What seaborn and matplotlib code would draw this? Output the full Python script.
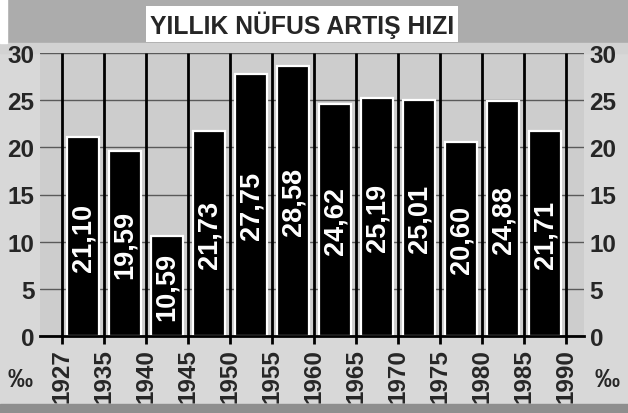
import seaborn as sns
import matplotlib.pyplot as plt
import matplotlib.patches as mpatches
import pandas as pd
import numpy as np

# census years (bar boundaries) and yearly growth rate per period (per mille)
years = ['1927', '1935', '1940', '1945', '1950', '1955', '1960',
         '1965', '1970', '1975', '1980', '1985', '1990']
rates = [21.10, 19.59, 10.59, 21.73, 27.75, 28.58, 24.62,
         25.19, 25.01, 20.60, 24.88, 21.71]
periods = [a + '-' + b for a, b in zip(years[:-1], years[1:])]
y_ticks = [0, 5, 10, 15, 20, 25, 30]
title = 'YILLIK NÜFUS ARTIŞ HIZI'

sns.set_style("white")
plt.rcParams['font.family'] = ['Liberation Sans', 'DejaVu Sans']
plt.rcParams['font.weight'] = 'bold'

df = pd.DataFrame({'period': periods, 'rate': rates})

fig = plt.figure(figsize=(6.28, 4.14), dpi=100, facecolor='#d8d8d8')
W, H = 628, 414

# background bands like the scanned page
fig.patches.append(mpatches.Rectangle((0, 1 - 44 / H), 1, 44 / H, transform=fig.transFigure,
                                      color='#acacac', zorder=-5))
fig.patches.append(mpatches.Rectangle((0, 1 - 54 / H), 1, 10 / H, transform=fig.transFigure,
                                      color='#d2d2d2', zorder=-5))
fig.patches.append(mpatches.Rectangle((0, 1 - 44 / H), 7 / W, 44 / H, transform=fig.transFigure,
                                      color='white', zorder=-4))
fig.patches.append(mpatches.Rectangle((0, 0), 1, 9 / H, transform=fig.transFigure,
                                      color='#8e8e8e', zorder=-5))

ax = fig.add_axes([40 / W, 1 - 337 / H, 544 / W, 283 / H])
ax.set_facecolor('#cdcdcd')

sns.barplot(data=df, x='period', y='rate', color='black', saturation=1,
            edgecolor='white', linewidth=1.6, width=0.74, ax=ax, zorder=2)

labels = [('%.2f' % v).replace('.', ',') for v in rates]
ax.bar_label(ax.containers[0], labels=labels, label_type='center', rotation=90,
             color='white', fontsize=19.5, fontweight='bold')

bounds = np.arange(len(years)) - 0.5
ax.vlines(bounds, 0, 30, color='black', lw=2, zorder=3)

ax.set_xlim(-0.5 - 22 / 42, len(rates) - 0.5 + 18 / 42)
ax.set_ylim(0, 30)
ax.set_yticks(y_ticks)
ax.yaxis.grid(True, color='#5a5a5a', lw=1)
ax.set_axisbelow(True)

ax.set_xticks(bounds)
ax.set_xticklabels(years, rotation=90, fontsize=17.5, fontweight='bold')
ax.tick_params(axis='x', length=6, width=2, color='black', pad=3, bottom=True)
ax.tick_params(axis='y', length=0, pad=4, labelsize=17.5, labelleft=True, labelright=True)
ax.set_xlabel('')
ax.set_ylabel('')

for s in ['top', 'left', 'right']:
    ax.spines[s].set_visible(False)
ax.spines['bottom'].set_color('black')
ax.spines['bottom'].set_linewidth(2)

fig.text(20 / W, 1 - 380 / H, '‰', ha='center', va='center', fontsize=18, fontweight='bold')
fig.text(607 / W, 1 - 380 / H, '‰', ha='center', va='center', fontsize=18, fontweight='bold')

fig.text(302 / W, 1 - 25 / H, title, ha='center', va='center', fontsize=17.8,
         fontweight='bold',
         bbox=dict(boxstyle='square,pad=0.16', facecolor='white', edgecolor='none'))

plt.savefig('out.png', dpi=100, facecolor=fig.get_facecolor())
